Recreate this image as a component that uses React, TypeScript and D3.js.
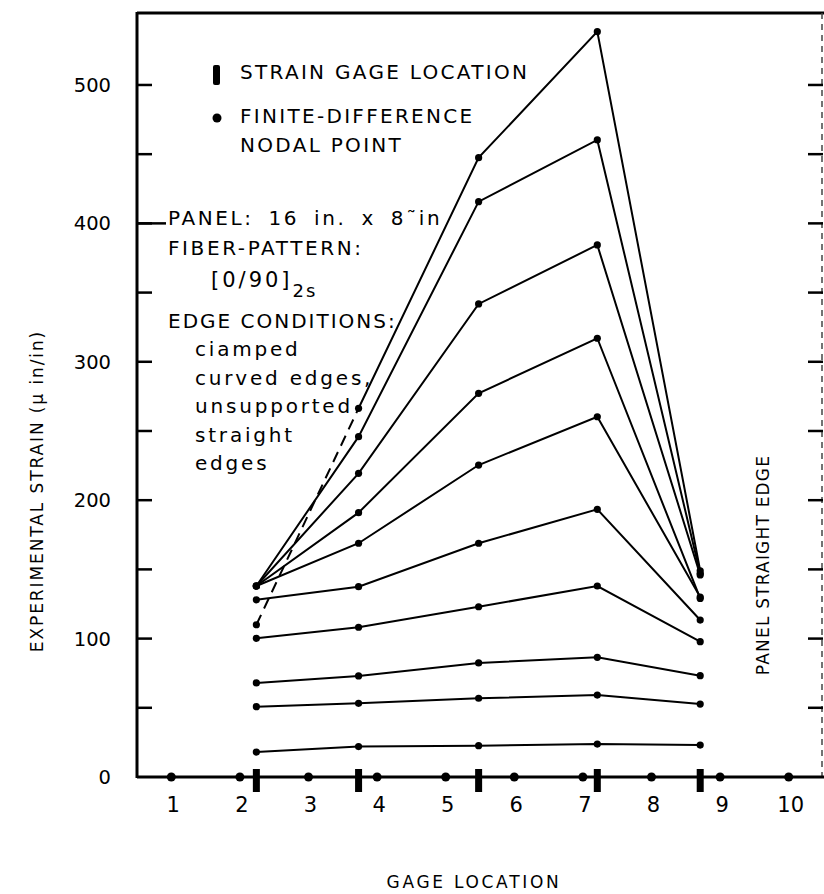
import React from 'react';
import * as d3 from 'd3';

// nodal points along the panel (finite-difference grid) and gage stations
const nodalPoints = [1, 2, 3, 4, 5, 6, 7, 8, 9, 10];
const gageLocations = [2.24, 3.73, 5.48, 7.21, 8.71];
const strainLabels = [0, 100, 200, 300, 400, 500];
const strainTicks = [50, 100, 150, 200, 250, 300, 350, 400, 450, 500];

// strain readings at the five gages, one array per load step (bottom to top)
const load01 = [18, 22, 22.6, 23.8, 23.1];
const load02 = [50.8, 53.2, 56.9, 59.2, 52.7];
const load03 = [68, 73, 82.4, 86.5, 73.2];
const load04 = [100.2, 108.2, 123, 138, 97.8];
const load05 = [128, 137.5, 168.9, 193.4, 113.4];
const load06 = [138, 168.9, 225.4, 260.3, 130];
const load07 = [138, 191, 277.2, 317, 129];
const load08 = [138, 219.4, 341.8, 384.4, 146];
const load09 = [138, 245.9, 415.7, 460.3, 147];
const load10 = [110, 266.4, 447.5, 538.5, 149];
const loadSteps = [load01, load02, load03, load04, load05, load06, load07, load08, load09, load10];

const edgeNotes = ['ciamped', 'curved edges,', 'unsupported', 'straight', 'edges'];

const font = '"DejaVu Sans", sans-serif';

export default function App() {
  const width = 824;
  const height = 894;
  const left = 137, right = 823, top = 13, bottom = 777;

  const x = d3.scaleLinear().domain([0.5, 10.5]).range([left, right]);
  const y = d3.scaleLinear().domain([0, 552]).range([bottom, top]);

  const line = d3.line<[number, number]>()
    .x(d => x(d[0]))
    .y(d => y(d[1]));

  const pts = (vals: number[]) => vals.map((v, i) => [gageLocations[i], v] as [number, number]);

  return (
    <div style={{ position: 'absolute', left: 0, top: 0, background: '#fff' }}>
      <svg width={width} height={height} style={{ display: 'block' }} fontFamily={font}>
        <rect width={width} height={height} fill="#fff" />

        {/* frame */}
        <line x1={left} x2={right + 2} y1={top} y2={top} stroke="#000" strokeWidth={3} />
        <line x1={left} x2={left} y1={top - 1} y2={bottom + 1} stroke="#000" strokeWidth={3} />
        <line x1={right - 1} x2={right - 1} y1={top} y2={bottom} stroke="#444" strokeWidth={1.5} strokeDasharray="6,5" />
        <line x1={left} x2={right + 2} y1={bottom} y2={bottom} stroke="#000" strokeWidth={3} />

        {/* y ticks, both sides, pointing inward */}
        {strainTicks.map(t => (
          <g key={t}>
            <line x1={left} x2={left + 15} y1={y(t)} y2={y(t)} stroke="#000" strokeWidth={2.5} />
            <line x1={right - 15} x2={right} y1={y(t)} y2={y(t)} stroke="#000" strokeWidth={2.5} />
          </g>
        ))}
        {strainLabels.map(t => (
          <text key={t} x={111} y={y(t) + 7} textAnchor="end" fontSize={19.5} fill="#000">{t}</text>
        ))}

        {/* nodal points on the axis */}
        {nodalPoints.map(n => (
          <g key={n}>
            <circle cx={x(n)} cy={bottom} r={4.5} fill="#000" />
            <text x={x(n) + 2} y={812} textAnchor="middle" fontSize={21} fill="#000">{n}</text>
          </g>
        ))}
        {/* strain gage stations */}
        {gageLocations.map(g => (
          <rect key={g} x={x(g) - 3.5} y={bottom - 8} width={7} height={23} fill="#000" />
        ))}

        {/* strain curves */}
        {loadSteps.map((vals, i) => {
          const p = pts(vals);
          const dashedStart = i === loadSteps.length - 1;
          return (
            <g key={i}>
              {dashedStart ? (
                <>
                  <path d={line(p.slice(0, 2)) || ''} fill="none" stroke="#000" strokeWidth={2} strokeDasharray="11,7" />
                  <path d={line(p.slice(1)) || ''} fill="none" stroke="#000" strokeWidth={2} />
                </>
              ) : (
                <path d={line(p) || ''} fill="none" stroke="#000" strokeWidth={2} />
              )}
              {p.map((d, j) => (
                <circle key={j} cx={x(d[0])} cy={y(d[1])} r={3.6} fill="#000" />
              ))}
            </g>
          );
        })}

        {/* legend */}
        <rect x={213} y={65} width={7} height={20} rx={2} fill="#000" />
        <text x={240} y={79} fontSize={20} letterSpacing={2.3} fill="#000">STRAIN GAGE LOCATION</text>
        <circle cx={217} cy={118} r={4.5} fill="#000" />
        <text x={240} y={123} fontSize={20} letterSpacing={2.3} fill="#000">FINITE-DIFFERENCE</text>
        <text x={240} y={152} fontSize={20} letterSpacing={2.3} fill="#000">NODAL POINT</text>

        {/* panel description */}
        <line x1={left} x2={166} y1={y(400)} y2={y(400)} stroke="#000" strokeWidth={2.5} />
        <text x={168} y={225} fontSize={20} letterSpacing={2.6} wordSpacing={6} fill="#000">PANEL: 16 in. x 8{'\u02dc'}in</text>
        <text x={168} y={255} fontSize={20} letterSpacing={2.6} fill="#000">FIBER-PATTERN:</text>
        <text x={211} y={287} fontSize={21} letterSpacing={3} fill="#000">
          [0/90]<tspan dy={10} fontSize={18} letterSpacing={2}>2s</tspan>
        </text>
        <text x={168} y={328} fontSize={20} letterSpacing={2} fill="#000">EDGE CONDITIONS:</text>
        {edgeNotes.map((t, i) => (
          <text key={t} x={195} y={356 + i * 28.5} fontSize={20} letterSpacing={2.8} fill="#000">{t}</text>
        ))}

        {/* axis titles */}
        <text x={474} y={888} textAnchor="middle" fontSize={17} letterSpacing={2.7} fill="#000">GAGE LOCATION</text>
        <text transform="translate(43,491) rotate(-90)" textAnchor="middle" fontSize={17} letterSpacing={1.9} fill="#000">
          EXPERIMENTAL STRAIN ({'\u03bc'} in/in)
        </text>
        <text transform="translate(769,565) rotate(-90)" textAnchor="middle" fontSize={17} letterSpacing={1.2} fill="#000">
          PANEL STRAIGHT EDGE
        </text>
      </svg>
    </div>
  );
}
